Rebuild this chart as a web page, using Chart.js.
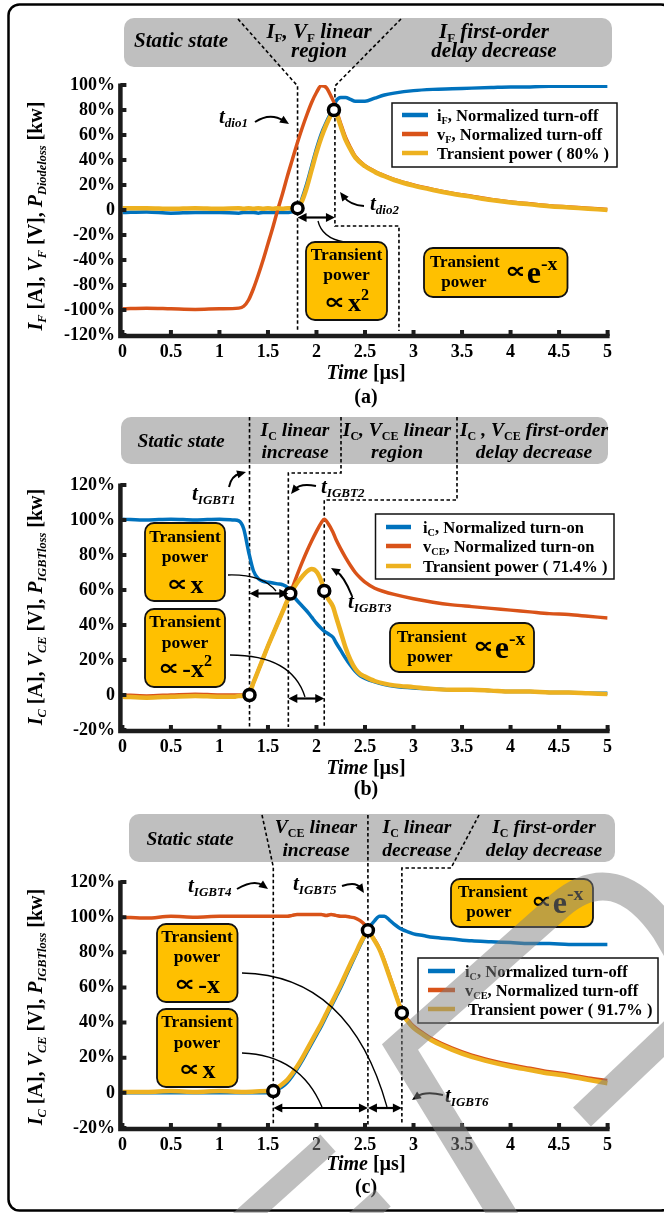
<!DOCTYPE html>
<html>
<head>
<meta charset="utf-8">
<title>Normalized switching waveforms and transient power</title>
<script src="https://cdn.jsdelivr.net/npm/chart.js@4.4.1/dist/chart.umd.min.js"></script>
<style>
  html, body { margin: 0; padding: 0; background: #fff; }
  #fig { position: relative; width: 664px; height: 1213px; overflow: hidden; background: #fff; }
  #fig canvas { position: absolute; left: 0; }
</style>
</head>
<body>
<div id="fig">
  <canvas id="pa" style="top:0px"></canvas>
  <canvas id="pb" style="top:412px"></canvas>
  <canvas id="pc" style="top:810px"></canvas>
  <canvas id="overlay" style="top:0px;pointer-events:none"></canvas>
</div>
<script>
// ---------- tick labels ----------
const timeTicks = ['0', '0.5', '1', '1.5', '2', '2.5', '3', '3.5', '4', '4.5', '5'];
const yTicksA = ['-120%', '-100%', '-80%', '-40%', '-20%', '0', '20%', '40%', '60%', '80%', '100%'];
const yTicksBC = ['-20%', '0', '20%', '40%', '60%', '80%', '100%', '120%'];

// ---------- (a) diode turn-off ----------
const timeA = [0, 0.25, 0.5, 0.75, 1, 1.2, 1.25, 1.3, 1.35, 1.4, 1.45, 1.5, 1.55, 1.6, 1.65, 1.7, 1.75, 1.8,
  1.85, 1.9, 1.95, 2, 2.05, 2.1, 2.15, 2.18, 2.2, 2.25, 2.3, 2.35, 2.4, 2.5, 2.6, 2.7, 2.8,
  3, 3.2, 3.4, 3.6, 3.8, 4, 4.2, 4.4, 4.6, 4.8, 5];
const iF_A = [-2, -1.5, -2.5, -2, -2, -2.5, -2, -2, -2, -2.5, -2, -2, -2, -2, -2, -2, -1.5, -1,
  9, 21, 35, 49, 61, 70, 78, 83, 87, 90, 90, 88.5, 87, 87, 89.5, 92, 93.5,
  95.5, 96.5, 97, 97.5, 98, 98.5, 98.5, 99, 99, 99, 99];
const vF_A = [-79, -78.5, -79, -79.5, -79, -78.5, -77, -72, -63, -52, -40, -27, -14, 0, 13, 27, 40, 53,
  65, 76, 86, 94, 99.5, 98, 91, 86, 81, 69, 58, 50, 43, 35.5, 31, 27.5, 24.5,
  20, 16.5, 13.5, 11, 8.5, 6.5, 5, 3.5, 2.5, 1.5, 0.5];
const pA = [1.5, 1.5, 1, 1.5, 1, 1.5, 1, 1.5, 1, 1.5, 1, 1.5, 1, 1.5, 1, 1.5, 1.5, 2,
  7, 18, 32, 46, 58, 68, 76, 80, 78, 67, 56, 48.5, 42, 35, 30.5, 27, 24,
  19.5, 16, 13, 10.5, 8, 6, 4.5, 3, 2, 1, 0];
const markTA = [1.805, 2.18];
const markVA = [1.5, 80];

// ---------- (b) IGBT turn-on ----------
const timeB = [0, 0.25, 0.5, 0.75, 1, 1.15, 1.2, 1.25, 1.3, 1.35, 1.4, 1.45, 1.5, 1.55, 1.6, 1.65, 1.7, 1.75,
  1.8, 1.85, 1.9, 1.95, 2, 2.05, 2.08, 2.12, 2.17, 2.2, 2.25, 2.3, 2.35, 2.4, 2.45, 2.5,
  2.6, 2.7, 2.8, 3, 3.2, 3.4, 3.6, 3.8, 4, 4.2, 4.4, 4.6, 4.8, 5];
const iC_B = [100.5, 100, 100.5, 100, 100.5, 100, 99.5, 95, 82, 71, 66.5, 65, 64.5, 64, 63.5, 63, 61.5, 57.5,
  54, 51, 48, 44.5, 41, 38, 36.5, 35, 33, 30, 25.5, 21, 17, 13.5, 11, 9.5,
  7.5, 6, 5, 4, 3.5, 3, 3, 2.5, 2, 2, 1.5, 1.5, 1, 1];
const vCE_B = [0, -0.5, 0, 0.5, 0, 0, 0, 0, 0.5, 7, 14, 21, 28, 34.5, 41, 47.5, 54, 61,
  68.5, 75.5, 82, 88, 93.5, 98.5, 100.5, 98, 93, 89, 83.5, 78.5, 74, 70, 67, 64.5,
  61, 59, 57.5, 55, 53, 51.5, 50.5, 49.5, 48.5, 47.5, 46.5, 46, 45, 44];
const pB = [-1, -1.5, -1, -0.5, -1, -1, -0.5, -0.5, 0, 7, 14, 21, 28, 34.5, 41, 47.5, 54, 59.5,
  64, 67.5, 70.5, 72, 70.5, 65, 59.5, 55, 50.5, 45, 36, 27, 20, 15, 12, 10.5,
  8, 6.5, 5.5, 4.5, 3.5, 3, 3, 2.5, 2, 2, 1.5, 1.5, 1, 0.5];
const markTB = [1.31, 1.73, 2.08];
const markVB = [0, 58, 59.5];

// ---------- (c) IGBT turn-off ----------
const timeC = [0, 0.25, 0.5, 0.75, 1, 1.25, 1.5, 1.55, 1.6, 1.65, 1.7, 1.75, 1.8, 1.85, 1.9, 1.95, 2, 2.05,
  2.1, 2.15, 2.2, 2.25, 2.3, 2.35, 2.4, 2.45, 2.5, 2.53, 2.55, 2.6, 2.65, 2.7, 2.75, 2.8, 2.85,
  2.88, 2.95, 3, 3.1, 3.2, 3.4, 3.6, 3.8, 4, 4.2, 4.4, 4.6, 4.8, 5];
const iC_C = [0, 0, 0, 0, 0, 0, 0, 0.5, 2, 3.5, 6, 9.5, 13.5, 18, 23, 28, 33, 38,
  43.5, 49, 54.5, 60, 66, 72, 78, 84, 89.5, 92.5, 94.5, 98, 100.5, 100.5, 98.5, 96, 94,
  93, 91.5, 90.5, 89.5, 88.5, 87.5, 86.5, 86, 85.5, 85, 85, 84.5, 84.5, 84.5];
const vCE_C = [100, 99.5, 100.5, 100, 100.5, 100.5, 100.5, 100.5, 100.5, 100.5, 100.5, 101, 101.5, 101.5, 101.5, 101.5, 101.5, 101.5,
  101, 101.5, 101, 100.5, 100.5, 100, 99.5, 98, 95.5, 93, 91, 87, 82, 75, 67, 59, 51,
  46.5, 41, 38, 34, 30.5, 25.5, 21.5, 18.5, 16, 14, 12, 10.5, 8.5, 7];
const pC = [0.5, 0.5, 1, 0.5, 1, 0.5, 1, 1, 3, 5, 7.5, 11, 15, 19.5, 24.5, 29.5, 34.5, 39.5,
  45, 50.5, 56, 61.5, 67.5, 73.5, 79, 85, 90, 92.5, 91, 86.5, 81.5, 74.5, 66.5, 58.5, 50.5,
  45.5, 40, 37, 33, 29.5, 24.5, 20.5, 17.5, 15, 13, 11, 9.5, 7.5, 5.5];
const markTC = [1.555, 2.53, 2.88];
const markVC = [1, 92.5, 45.5];

// ---------- look ----------
const SERIF = "'Liberation Serif','Times New Roman','DejaVu Serif',serif";
const SYMBOL = "'DejaVu Sans','Liberation Sans',sans-serif";
const BLUE = '#0072BD', ORANGE = '#D95319', GOLD = '#EDB120';
const BOXFILL = '#FFC000', HEADFILL = '#BFBFBF';
const PLOT_L = 122.4, PLOT_R = 607.6;

// ---------- drawing helpers ----------
// runs: t text, i italic, s 'sub'|'sup', k size factor, f family, dy shift, gap extra advance, sx horizontal stretch
function rich(ctx, runs, x, y, size, align) {
  const parts = runs.map(r => {
    const sz = r.s ? size * 0.62 : size * (r.k || 1);
    const f = (r.i ? 'italic ' : '') + (r.n ? '' : 'bold ') + sz.toFixed(2) + 'px ' + (r.f || SERIF);
    ctx.font = f;
    const sx = r.sx || 1;
    const dy = (r.s === 'sub' ? size * 0.2 : (r.s === 'sup' ? -size * 0.42 : 0)) + (r.dy || 0);
    return { t: r.t, f, sx, w: ctx.measureText(r.t).width * sx + (r.gap || 0), dy };
  });
  const W = parts.reduce((a, p) => a + p.w, 0);
  let cx = align === 'center' ? x - W / 2 : (align === 'right' ? x - W : x);
  ctx.textAlign = 'left';
  ctx.textBaseline = 'alphabetic';
  ctx.fillStyle = '#000';
  for (const p of parts) {
    ctx.font = p.f;
    if (p.sx !== 1) {
      ctx.save(); ctx.translate(cx, y + p.dy); ctx.scale(p.sx, 1); ctx.fillText(p.t, 0, 0); ctx.restore();
    } else {
      ctx.fillText(p.t, cx, y + p.dy);
    }
    cx += p.w;
  }
  return W;
}
function rrect(ctx, x, y, w, h, r) {
  ctx.beginPath();
  ctx.moveTo(x + r, y);
  ctx.arcTo(x + w, y, x + w, y + h, r);
  ctx.arcTo(x + w, y + h, x, y + h, r);
  ctx.arcTo(x, y + h, x, y, r);
  ctx.arcTo(x, y, x + w, y, r);
  ctx.closePath();
}
function header(ctx, x, y, w, h) {
  rrect(ctx, x, y, w, h, 10);
  ctx.fillStyle = HEADFILL; ctx.fill();
}
function box(ctx, x, y, w, h) {
  rrect(ctx, x, y, w, h, 9);
  ctx.fillStyle = BOXFILL; ctx.fill();
  ctx.lineWidth = 1.8; ctx.strokeStyle = '#111'; ctx.setLineDash([]); ctx.stroke();
}
function dashed(ctx, pts) {
  ctx.save();
  ctx.strokeStyle = '#000'; ctx.lineWidth = 1.6; ctx.setLineDash([3.5, 2.5]);
  ctx.beginPath(); ctx.moveTo(pts[0][0], pts[0][1]);
  for (let i = 1; i < pts.length; i++) ctx.lineTo(pts[i][0], pts[i][1]);
  ctx.stroke();
  ctx.restore();
}
function head(ctx, x, y, ang, L, W) {
  L = L || 9; W = W || 4;
  const c = Math.cos(ang), s = Math.sin(ang);
  ctx.beginPath();
  ctx.moveTo(x, y);
  ctx.lineTo(x - L * c + W * s, y - L * s - W * c);
  ctx.lineTo(x - L * c - W * s, y - L * s + W * c);
  ctx.closePath(); ctx.fillStyle = '#000'; ctx.fill();
}
function curve(ctx, p0, c, p1, lw) {
  ctx.save(); ctx.setLineDash([]); ctx.strokeStyle = '#000'; ctx.lineWidth = lw || 1.3;
  ctx.beginPath(); ctx.moveTo(p0[0], p0[1]); ctx.quadraticCurveTo(c[0], c[1], p1[0], p1[1]); ctx.stroke();
  ctx.restore();
}
function carrow(ctx, p0, c, p1) {
  const ang = Math.atan2(p1[1] - c[1], p1[0] - c[0]);
  const e = [p1[0] - 6 * Math.cos(ang), p1[1] - 6 * Math.sin(ang)];
  curve(ctx, p0, c, e, 2);
  head(ctx, p1[0], p1[1], ang, 9, 4);
}
function dbl(ctx, x0, x1, y) {
  ctx.save(); ctx.setLineDash([]); ctx.strokeStyle = '#000'; ctx.lineWidth = 2.2;
  ctx.beginPath(); ctx.moveTo(x0 + 6, y); ctx.lineTo(x1 - 6, y); ctx.stroke();
  ctx.restore();
  head(ctx, x0, y, Math.PI, 9, 4.5);
  head(ctx, x1, y, 0, 9, 4.5);
}
const PROP = { t: '\u221D', k: 0.85, f: SYMBOL, dy: -2, gap: 3, sx: 1.35 };
function boxText(ctx, cx, b1, b2, b3, formula) {
  rich(ctx, [{ t: 'Transient' }], cx, b1, 17.5, 'center');
  rich(ctx, [{ t: 'power' }], cx, b2, 17.5, 'center');
  rich(ctx, formula, cx, b3, 26, 'center');
}
function expText(ctx, tx, t1, px, p2, fx, fb) {
  rich(ctx, [{ t: 'Transient' }], tx, t1, 17, 'left');
  rich(ctx, [{ t: 'power' }], px, p2, 17, 'center');
  rich(ctx, [{ t: '\u221D', k: 0.7, f: SYMBOL, dy: -5, gap: 1, sx: 1.3 }, { t: 'e' }, { t: '-x', s: 'sup' }], fx, fb, 32, 'left');
}
function legend(ctx, chart, bx, by, bw, bh, rows, sx0, sx1, tx, runsList) {
  ctx.save();
  ctx.fillStyle = '#fff'; ctx.fillRect(bx, by, bw, bh);
  ctx.strokeStyle = '#111'; ctx.lineWidth = 1.5; ctx.setLineDash([]);
  ctx.strokeRect(bx, by, bw, bh);
  const lines = chart.data.datasets.filter(d => d.type !== 'scatter');
  lines.forEach((d, i) => {
    ctx.strokeStyle = d.borderColor; ctx.lineWidth = 4.5; ctx.lineCap = 'butt';
    ctx.beginPath(); ctx.moveTo(sx0, rows[i]); ctx.lineTo(sx1, rows[i]); ctx.stroke();
    rich(ctx, runsList[i], tx[i], rows[i] + 6, 16.5, 'left');
  });
  ctx.restore();
}
function titles(ctx, yRuns, yc, xBase, cap, capBase) {
  ctx.save();
  ctx.translate(35, yc); ctx.rotate(-Math.PI / 2);
  rich(ctx, yRuns, 0, 7, 20, 'center');
  ctx.restore();
  rich(ctx, [{ t: 'Time', i: 1 }, { t: ' [\u00B5s]' }], 366, xBase, 20, 'center');
  rich(ctx, [{ t: cap }], 366, capBase, 20, 'center');
}
const tl = (ctx, sub, x, y) => rich(ctx, [{ t: 't', i: 1 }, { t: sub, i: 1, s: 'sub' }], x, y, 21, 'left');

// ---------- legend and axis texts ----------
const legendA = [
  [{ t: 'i' }, { t: 'F', s: 'sub' }, { t: ', Normalized turn-off' }],
  [{ t: 'v' }, { t: 'F', s: 'sub' }, { t: ', Normalized turn-off' }],
  [{ t: 'Transient power ( 80% )' }]
];
const legendB = [
  [{ t: 'i' }, { t: 'C', s: 'sub' }, { t: ', Normalized turn-on' }],
  [{ t: 'v' }, { t: 'CE', s: 'sub' }, { t: ', Normalized turn-on' }],
  [{ t: 'Transient power ( 71.4% )' }]
];
const legendC = [
  [{ t: 'i' }, { t: 'C', s: 'sub' }, { t: ', Normalized turn-off' }],
  [{ t: 'v' }, { t: 'CE', s: 'sub' }, { t: ', Normalized turn-off' }],
  [{ t: 'Transient power ( 91.7% )' }]
];
const yTitleA = [{ t: 'I', i: 1 }, { t: 'F', i: 1, s: 'sub' }, { t: ' [A], ' }, { t: 'V', i: 1 }, { t: 'F', i: 1, s: 'sub' },
  { t: ' [V], ' }, { t: 'P', i: 1 }, { t: 'Diodeloss', i: 1, s: 'sub' }, { t: ' [kw]' }];
const yTitleBC = [{ t: 'I', i: 1 }, { t: 'C', i: 1, s: 'sub' }, { t: ' [A], ' }, { t: 'V', i: 1 }, { t: 'CE', i: 1, s: 'sub' },
  { t: ' [V], ' }, { t: 'P', i: 1 }, { t: 'IGBTloss', i: 1, s: 'sub' }, { t: ' [kw]' }];

// ---------- panel annotations (page coordinates) ----------
function artA(ctx, X, Y, stage, chart) {
  if (stage === 'under') {
    header(ctx, 124, 18, 488, 49);
    rich(ctx, [{ t: 'Static state', i: 1 }], 181, 47, 21, 'center');
    rich(ctx, [{ t: 'I', i: 1 }, { t: 'F', s: 'sub' }, { t: ', ', i: 1 }, { t: 'V', i: 1 }, { t: 'F', s: 'sub' }, { t: ' linear', i: 1 }], 319, 38, 21, 'center');
    rich(ctx, [{ t: 'region', i: 1 }], 319, 57, 21, 'center');
    rich(ctx, [{ t: 'I', i: 1 }, { t: 'F', s: 'sub' }, { t: ' first-order', i: 1 }], 494, 38, 21, 'center');
    rich(ctx, [{ t: 'delay decrease', i: 1 }], 494, 57, 21, 'center');
    dashed(ctx, [[238, 19], [X(1.805), 86], [X(1.805), 331]]);
    dashed(ctx, [[401, 19], [X(2.19), 86], [X(2.19), 226], [X(2.85), 226], [X(2.85), 331]]);
    return;
  }
  dbl(ctx, X(1.805), X(2.19), Y(-6));
  curve(ctx, [318, 221], [322, 238], [344, 242]);
  box(ctx, 306, 242, 81, 78);
  boxText(ctx, 346.5, 260, 280, 311, [PROP, { t: 'x' }, { t: '2', s: 'sup' }]);
  box(ctx, 424, 248, 143.5, 49);
  expText(ctx, 430, 267, 464, 287, 505, 283);
  tl(ctx, 'dio1', 219, 123);
  carrow(ctx, [255, 122], [270, 112], [289, 124]);
  tl(ctx, 'dio2', 370, 210);
  carrow(ctx, [364, 206], [350, 205], [340, 192]);
  legend(ctx, chart, 392, 103, 225, 64, [115, 134, 153], 402, 428, [437, 437, 437], legendA);
  titles(ctx, yTitleA, 216, 379, '(a)', 403);
}

function artB(ctx, X, Y, stage, chart) {
  if (stage === 'under') {
    header(ctx, 121, 417, 487, 47);
    rich(ctx, [{ t: 'Static state', i: 1 }], 181, 447, 19.5, 'center');
    rich(ctx, [{ t: 'I', i: 1 }, { t: 'C', s: 'sub' }, { t: ' linear', i: 1 }], 295, 436, 19.5, 'center');
    rich(ctx, [{ t: 'increase', i: 1 }], 295, 458, 19.5, 'center');
    rich(ctx, [{ t: 'I', i: 1 }, { t: 'C', s: 'sub' }, { t: ', ', i: 1 }, { t: 'V', i: 1 }, { t: 'CE', s: 'sub' }, { t: ' linear', i: 1 }], 397, 436, 19.5, 'center');
    rich(ctx, [{ t: 'region', i: 1 }], 397, 458, 19.5, 'center');
    rich(ctx, [{ t: 'I', i: 1 }, { t: 'C', s: 'sub' }, { t: ' , ', i: 1 }, { t: 'V', i: 1 }, { t: 'CE', s: 'sub' }, { t: ' first-order', i: 1 }], 534, 436, 19.5, 'center');
    rich(ctx, [{ t: 'delay decrease', i: 1 }], 534, 458, 19.5, 'center');
    dashed(ctx, [[X(1.31), 417], [X(1.31), 727]]);
    dashed(ctx, [[341, 417], [341, 473], [X(1.71), 473], [X(1.71), 727]]);
    dashed(ctx, [[457, 417], [457, 500], [X(2.08), 500], [X(2.08), 727]]);
    return;
  }
  dbl(ctx, X(1.31), X(1.71), Y(58));
  dbl(ctx, X(1.71), X(2.08), Y(-2));
  curve(ctx, [228, 575], [262, 574], [276, 591]);
  curve(ctx, [230, 655], [292, 655], [305, 697]);
  box(ctx, 145, 523, 80, 78);
  boxText(ctx, 185, 542, 562, 593, [PROP, { t: 'x' }]);
  box(ctx, 145, 609, 80, 78);
  boxText(ctx, 185, 627, 648, 677, [PROP, { t: '-x' }, { t: '2', s: 'sup' }]);
  box(ctx, 390, 623, 144, 49);
  expText(ctx, 397, 642, 430, 662, 473, 658);
  tl(ctx, 'IGBT1', 192, 500);
  carrow(ctx, [229, 487], [231, 476], [246, 472]);
  tl(ctx, 'IGBT2', 321, 493);
  carrow(ctx, [316, 486], [300, 483], [291, 494]);
  tl(ctx, 'IGBT3', 348, 608);
  carrow(ctx, [352, 596], [344, 576], [331, 568]);
  legend(ctx, chart, 375.5, 514, 238.5, 65, [527, 546, 566], 386, 411, [423, 423, 423], legendB);
  titles(ctx, yTitleBC, 607, 774, '(b)', 795);
}

function artC(ctx, X, Y, stage, chart) {
  if (stage === 'under') {
    header(ctx, 129, 814, 486, 48);
    rich(ctx, [{ t: 'Static state', i: 1 }], 190, 845, 19.5, 'center');
    rich(ctx, [{ t: 'V', i: 1 }, { t: 'CE', s: 'sub' }, { t: ' linear', i: 1 }], 316, 833, 19.5, 'center');
    rich(ctx, [{ t: 'increase', i: 1 }], 316, 856, 19.5, 'center');
    rich(ctx, [{ t: 'I', i: 1 }, { t: 'C', s: 'sub' }, { t: ' linear', i: 1 }], 417, 833, 19.5, 'center');
    rich(ctx, [{ t: 'decrease', i: 1 }], 417, 856, 19.5, 'center');
    rich(ctx, [{ t: 'I', i: 1 }, { t: 'C', s: 'sub' }, { t: ' first-order', i: 1 }], 544, 833, 19.5, 'center');
    rich(ctx, [{ t: 'delay decrease', i: 1 }], 544, 856, 19.5, 'center');
    dashed(ctx, [[262, 815], [X(1.555), 867], [X(1.555), 1125]]);
    dashed(ctx, [[X(2.53), 815], [X(2.53), 1125]]);
    dashed(ctx, [[479, 815], [451, 868], [X(2.88), 868], [X(2.88), 1125]]);
    return;
  }
  dbl(ctx, X(1.555), X(2.53), 1108);
  dbl(ctx, X(2.53), X(2.88), 1108);
  curve(ctx, [242, 973], [350, 975], [387, 1107]);
  curve(ctx, [242, 1053], [300, 1055], [322, 1107]);
  box(ctx, 451, 879, 142, 48);
  expText(ctx, 458, 897, 489, 917, 531, 913);
  box(ctx, 157, 924, 80.5, 78);
  boxText(ctx, 197, 942, 962, 993, [PROP, { t: '-x' }]);
  box(ctx, 157, 1009, 80.5, 78);
  boxText(ctx, 197, 1027, 1048, 1078, [PROP, { t: 'x' }]);
  tl(ctx, 'IGBT4', 188, 892);
  carrow(ctx, [237, 889], [254, 879], [268, 889]);
  tl(ctx, 'IGBT5', 293, 890);
  carrow(ctx, [342, 886], [356, 881], [364, 893]);
  tl(ctx, 'IGBT6', 445, 1102);
  carrow(ctx, [443, 1095], [425, 1091], [412, 1100]);
  legend(ctx, chart, 418, 958, 240, 65, [971, 990, 1009], 428, 455, [465, 465, 468], legendC);
  titles(ctx, yTitleBC, 1007, 1170, '(c)', 1193);
}

const PANELS = {
  pa: { top: 0, art: artA },
  pb: { top: 412, art: artB },
  pc: { top: 810, art: artC }
};

function paint(chart, stage) {
  const p = PANELS[chart.canvas.id];
  const ctx = chart.ctx;
  const xs = chart.scales.x, ys = chart.scales.y;
  const X = t => xs.getPixelForValue(t);
  const Y = v => ys.getPixelForValue(v) + p.top;
  ctx.save();
  ctx.translate(0, -p.top);
  p.art(ctx, X, Y, stage, chart);
  ctx.restore();
}
function paintAxes(chart) {
  const { ctx, chartArea: a, scales: { x, y } } = chart;
  ctx.save();
  ctx.strokeStyle = '#1c1c1c'; ctx.lineCap = 'butt'; ctx.setLineDash([]);
  ctx.lineWidth = 4.5;
  ctx.beginPath();
  ctx.moveTo(a.left - 2, a.top - 1.5);
  ctx.lineTo(a.left - 2, a.bottom + 1);
  ctx.lineTo(a.right + 2, a.bottom + 1);
  ctx.stroke();
  ctx.lineWidth = 4;
  ctx.beginPath();
  x.ticks.forEach(t => { const px = x.getPixelForValue(t.value); ctx.moveTo(px, a.bottom + 1); ctx.lineTo(px, a.bottom - 5); });
  y.ticks.forEach(t => { const py = y.getPixelForValue(t.value); ctx.moveTo(a.left - 2, py); ctx.lineTo(a.left + 4, py); });
  ctx.stroke();
  ctx.restore();
}
const artPlugin = {
  id: 'panelArt',
  beforeDatasetsDraw(chart) { paint(chart, 'under'); },
  afterDatasetsDraw(chart) { paintAxes(chart); paint(chart, 'over'); }
};

const tickFont = { family: SERIF, weight: 'bold', size: 18 };

function buildPanel(cfg) {
  const cv = document.getElementById(cfg.id);
  cv.width = 664; cv.height = cfg.height;
  cv.style.width = '664px'; cv.style.height = cfg.height + 'px';
  const top = PANELS[cfg.id].top;
  const datasets = cfg.series.map(s => ({
    label: s.name,
    data: cfg.time.map((t, k) => ({ x: t, y: s.values[k] })),
    borderColor: s.color, backgroundColor: s.color, borderWidth: s.width,
    pointRadius: 0, fill: false, cubicInterpolationMode: 'monotone', order: s.order
  }));
  datasets.push({
    type: 'scatter', label: 'points',
    data: cfg.markT.map((t, k) => ({ x: t, y: cfg.markV[k] })),
    pointRadius: 5.5, pointBorderWidth: 3.5, pointBackgroundColor: '#fff', pointBorderColor: '#000',
    showLine: false, order: 0
  });
  return new Chart(cv, {
    type: 'line',
    data: { datasets },
    options: {
      responsive: false, animation: false, devicePixelRatio: 1,
      layout: { padding: { top: cfg.chartTop - top, right: 664 - PLOT_R, left: 0, bottom: 0 } },
      plugins: { legend: { display: false }, tooltip: { enabled: false } },
      scales: {
        x: {
          type: 'linear', min: 0, max: 5,
          grid: { display: false, drawTicks: false }, border: { display: false },
          afterBuildTicks: s => { s.ticks = timeTicks.map((_, i) => ({ value: i * 0.5 })); },
          ticks: { autoSkip: false, maxRotation: 0, padding: 7, color: '#000', font: tickFont,
                   callback: (v, i) => timeTicks[i] },
          afterFit: s => { s.height = cfg.height - (cfg.chartBottom - top); }
        },
        y: {
          type: 'linear', min: cfg.yMin, max: cfg.yMax,
          grid: { display: false, drawTicks: false }, border: { display: false },
          afterBuildTicks: s => { s.ticks = cfg.yLabels.map((_, i) => ({ value: cfg.yMin + 20 * i })); },
          ticks: { autoSkip: false, padding: 7.5, color: '#000', font: tickFont,
                   callback: (v) => cfg.yLabels[Math.round((v - cfg.yMin) / 20)] },
          afterFit: s => { s.width = PLOT_L; }
        }
      }
    },
    plugins: [artPlugin]
  });
}

buildPanel({ id: 'pa', height: 412, chartTop: 85, chartBottom: 335, yMin: -100, yMax: 100, yLabels: yTicksA,
  time: timeA, markT: markTA, markV: markVA,
  series: [
    { name: 'iF, Normalized turn-off', values: iF_A, color: BLUE, width: 3.5, order: 3 },
    { name: 'vF, Normalized turn-off', values: vF_A, color: ORANGE, width: 3.5, order: 2 },
    { name: 'Transient power ( 80% )', values: pA, color: GOLD, width: 4.5, order: 1 }
  ] });
buildPanel({ id: 'pb', height: 398, chartTop: 485, chartBottom: 730, yMin: -20, yMax: 120, yLabels: yTicksBC,
  time: timeB, markT: markTB, markV: markVB,
  series: [
    { name: 'iC, Normalized turn-on', values: iC_B, color: BLUE, width: 3.5, order: 3 },
    { name: 'vCE, Normalized turn-on', values: vCE_B, color: ORANGE, width: 3.5, order: 2 },
    { name: 'Transient power ( 71.4% )', values: pB, color: GOLD, width: 4.5, order: 1 }
  ] });
buildPanel({ id: 'pc', height: 403, chartTop: 882, chartBottom: 1128, yMin: -20, yMax: 120, yLabels: yTicksBC,
  time: timeC, markT: markTC, markV: markVC,
  series: [
    { name: 'iC, Normalized turn-off', values: iC_C, color: BLUE, width: 3.5, order: 3 },
    { name: 'vCE, Normalized turn-off', values: vCE_C, color: ORANGE, width: 3.5, order: 2 },
    { name: 'Transient power ( 91.7% )', values: pC, color: GOLD, width: 4.5, order: 1 }
  ] });

// ---------- frame and watermark strokes ----------
(function () {
  const cv = document.getElementById('overlay');
  cv.width = 664; cv.height = 1213;
  const ctx = cv.getContext('2d');
  ctx.strokeStyle = '#000'; ctx.lineWidth = 2.5;
  rrect(ctx, 8.5, 4.5, 672 - 8.5, 1210.5 - 4.5, 11);
  ctx.stroke();
  ctx.strokeStyle = 'rgba(128,128,128,0.5)';
  ctx.lineCap = 'butt'; ctx.lineJoin = 'miter';
  ctx.lineWidth = 23;
  ctx.beginPath(); ctx.moveTo(228, 1233); ctx.lineTo(328, 1143); ctx.stroke();
  ctx.beginPath(); ctx.moveTo(343, 1234); ctx.lineTo(383, 1198); ctx.stroke();
  ctx.lineWidth = 28;
  ctx.beginPath();
  ctx.moveTo(515, 1235); ctx.lineTo(400, 1047); ctx.lineTo(560, 905);
  ctx.quadraticCurveTo(615, 858, 665, 930); ctx.lineTo(700, 990);
  ctx.stroke();
  ctx.lineWidth = 26;
  ctx.beginPath(); ctx.moveTo(582, 1117); ctx.lineTo(700, 1005); ctx.stroke();
})();
</script>
</body>
</html>
